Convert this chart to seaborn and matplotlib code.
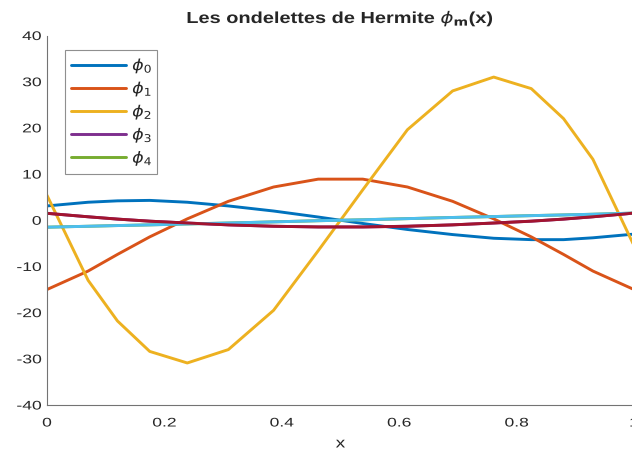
import numpy as np
import pandas as pd
import matplotlib
matplotlib.use("Agg")
import matplotlib.pyplot as plt
import matplotlib.patheffects as pe
from matplotlib.transforms import Affine2D
import seaborn as sns

# Sample points along [0, 1]
x = [0.0, 0.070, 0.120, 0.175, 0.239, 0.309, 0.386, 0.462,
     0.538, 0.614, 0.691, 0.761, 0.825, 0.880, 0.930, 1.0]

# Hermite wavelet values at those points
phi0 = [3.1, 3.9, 4.2, 4.3, 3.9, 3.1, 2.0, 0.7,
        -0.7, -2.0, -3.1, -3.9, -4.2, -4.2, -3.8, -3.0]
phi1 = [-15.0, -11.0, -7.4, -3.6, 0.3, 4.1, 7.2, 8.9,
        8.9, 7.2, 4.1, 0.3, -3.6, -7.4, -11.0, -15.0]
phi2 = [5.4, -13.0, -21.8, -28.4, -30.9, -28.0, -19.5, -6.6,
        6.6, 19.6, 28.0, 31.0, 28.5, 22.0, 13.2, -5.5]
phi5 = [-1.5, -1.3, -1.15, -1.0, -0.8, -0.6, -0.35, -0.1,
        0.1, 0.35, 0.6, 0.8, 1.0, 1.15, 1.3, 1.55]
phi6 = [1.5, 0.75, 0.25, -0.2, -0.6, -1.0, -1.3, -1.45,
        -1.45, -1.3, -1.0, -0.6, -0.2, 0.25, 0.75, 1.55]
phi3 = phi6
phi4 = phi5

series = {
    "phi0": phi0, "phi1": phi1, "phi2": phi2, "phi3": phi3,
    "phi4": phi4, "phi5": phi5, "phi6": phi6,
}
legend_labels = [r"$\phi_0$", r"$\phi_1$", r"$\phi_2$", r"$\phi_3$", r"$\phi_4$"]

colors = ["#0072BD", "#D95319", "#EDB120", "#7E2F8E",
          "#77AC30", "#4DBEEE", "#A2142F"]

df = pd.DataFrame(
    [(xi, yi, name) for name, vals in series.items() for xi, yi in zip(x, vals)],
    columns=["x", "y", "serie"],
)


class WideText(pe.AbstractPathEffect):
    """Draw text glyphs widened horizontally about a chosen anchor."""

    def __init__(self, sx, anchor="center"):
        super().__init__()
        self.sx = sx
        self.anchor = anchor

    def draw_path(self, renderer, gc, tpath, affine, rgbFace=None):
        bb = tpath.get_extents(affine)
        if self.anchor == "right":
            x0 = bb.x1
        elif self.anchor == "left":
            x0 = bb.x0
        else:
            x0 = 0.5 * (bb.x0 + bb.x1)
        widened = affine + Affine2D().translate(-x0, 0).scale(self.sx, 1).translate(x0, 0)
        renderer.draw_path(gc, tpath, widened, rgbFace)


sns.set_style("white")
plt.rcParams["font.family"] = ["Liberation Sans", "DejaVu Sans"]
plt.rcParams["mathtext.fontset"] = "dejavusans"

fig = plt.figure(figsize=(6.32, 4.5), dpi=100)
ax = fig.add_axes([47 / 632, 45 / 450, 587 / 632, 369.5 / 450])

handles = []
for name, c in zip(series.keys(), colors):
    sub = df[df["serie"] == name]
    sns.lineplot(data=sub, x="x", y="y", color=c, linewidth=2.1,
                 ax=ax, legend=False, estimator=None, sort=False)
    handles.append(ax.lines[-1])

ax.set_xlim(0, 1)
ax.set_ylim(-40, 40)
ax.set_xticks([0, 0.2, 0.4, 0.6, 0.8, 1.0])
ax.set_xticklabels(["0", "0.2", "0.4", "0.6", "0.8", "1"])
ax.set_yticks(np.arange(-40, 41, 10))
ax.set_yticklabels([str(v) for v in range(-40, 41, 10)])

for s in ["top", "right"]:
    ax.spines[s].set_visible(False)
for s in ["left", "bottom"]:
    ax.spines[s].set_color("0.45")
    ax.spines[s].set_linewidth(0.8)
ax.tick_params(direction="in", length=4, width=0.8, color="0.45",
               labelsize=9, labelcolor="#262626")
ax.tick_params(axis="x", pad=9)
ax.tick_params(axis="y", pad=4)

for lab in ax.get_xticklabels():
    lab.set_path_effects([WideText(1.4, "center")])
for lab in ax.get_yticklabels():
    lab.set_path_effects([WideText(1.4, "right")])

ax.set_xlabel("x", fontsize=10.5, color="#262626", labelpad=5,
              path_effects=[WideText(1.3, "center")])
ax.set_ylabel("")
ax.set_title(r"Les ondelettes de Hermite $\phi_{\mathbf{m}}$(x)",
             fontsize=11.5, fontweight="bold", pad=9,
             path_effects=[WideText(1.25, "center")])

leg = ax.legend(handles[:5], legend_labels, loc="upper left",
                bbox_to_anchor=(18 / 587, 1 - 14.5 / 369.5),
                fontsize=11, frameon=True, fancybox=False,
                handlelength=3.6, handletextpad=0.4,
                labelspacing=0.27, borderpad=0.4, borderaxespad=0)
leg.get_frame().set_edgecolor("0.45")
leg.get_frame().set_linewidth(0.8)
for t in leg.get_texts():
    t.set_path_effects([WideText(1.15, "left")])

fig.savefig("out.png", dpi=100)
